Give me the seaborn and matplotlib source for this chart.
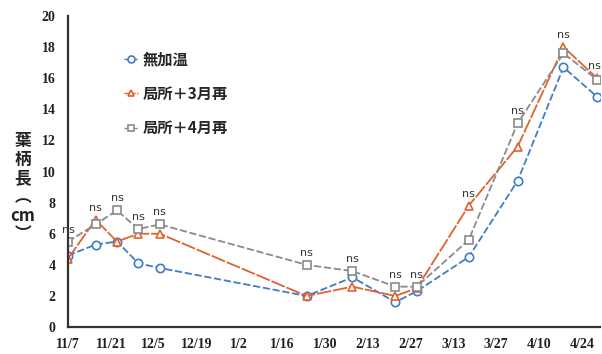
import matplotlib
matplotlib.use("Agg")
import matplotlib.pyplot as plt
import seaborn as sns
import pandas as pd

# Sampling days counted from 11/7
days = [0, 9, 16, 23, 30, 78, 93, 107, 114, 131, 147, 162, 173]

# Petiole length (cm) per treatment
mukaon = [4.6, 5.3, 5.5, 4.1, 3.8, 2.0, 3.2, 1.6, 2.3, 4.5, 9.4, 16.7, 14.8]
kyokusho_3 = [4.4, 6.9, 5.5, 6.0, 6.0, 2.0, 2.6, 2.0, 2.5, 7.8, 11.6, 18.0, 16.0]
kyokusho_4 = [5.5, 6.6, 7.5, 6.3, 6.6, 4.0, 3.6, 2.6, 2.6, 5.6, 13.1, 17.6, 15.9]

series_names = ["無加温", "局所＋3月再", "局所＋4月再"]
sig_labels = ["ns"] * len(days)

tick_days = [0, 14, 28, 42, 56, 70, 84, 98, 112, 126, 140, 154, 168]
tick_labels = ["11/7", "11/21", "12/5", "12/19", "1/2", "1/16", "1/30",
               "2/13", "2/27", "3/13", "3/27", "4/10", "4/24"]

sns.set_theme(style="white")
plt.rcParams["font.family"] = ["Noto Sans CJK JP", "DejaVu Sans"]

df = pd.concat([
    pd.DataFrame({"day": days, "value": mukaon, "treatment": series_names[0]}),
    pd.DataFrame({"day": days, "value": kyokusho_3, "treatment": series_names[1]}),
    pd.DataFrame({"day": days, "value": kyokusho_4, "treatment": series_names[2]}),
])

fig = plt.figure(figsize=(6.02, 3.54), dpi=100)
ax = fig.add_axes([0.113, 0.076, 0.884, 0.879])

styles = {
    series_names[0]: dict(color="#3f7cc6", marker="o", dashes=(4, 1.5)),
    series_names[1]: dict(color="#e0622c", marker="^", dashes=(8, 1)),
    series_names[2]: dict(color="#8a8a8a", marker="s", dashes=(4, 1.5)),
}

for name in series_names:
    st = styles[name]
    sub = df[df["treatment"] == name]
    sns.lineplot(data=sub, x="day", y="value", ax=ax, color=st["color"],
                 marker=st["marker"], markersize=6, markerfacecolor="white",
                 markeredgecolor=st["color"], markeredgewidth=1.2,
                 linewidth=1.3, dashes=False, label=name)
    ax.lines[-1].set_dashes(st["dashes"])

# significance marks above the highest point of each date
last = len(days) - 1
for i, (d, a, b, c, s) in enumerate(zip(days, mukaon, kyokusho_3, kyokusho_4, sig_labels)):
    ha, dx = ("right", 3) if i == last else ("center", 0)
    ax.annotate(s, (d, max(a, b, c)), xytext=(dx, 5), textcoords="offset points",
                ha=ha, va="bottom", fontsize=8, color="#333333",
                family=["DejaVu Sans"], annotation_clip=False)

ax.set_xlim(0, 174)
ax.set_ylim(0, 20)
ax.set_yticks(range(0, 21, 2))
ax.set_xticks(tick_days)
ax.set_xticklabels(tick_labels)
ax.set_xlabel("")
ax.set_ylabel("")

for lab in ax.get_xticklabels() + ax.get_yticklabels():
    lab.set_family(["Liberation Serif"])
    lab.set_fontweight("bold")
    lab.set_fontsize(10)
    lab.set_color("#222222")

for side in ["top", "right"]:
    ax.spines[side].set_visible(False)
for side in ["left", "bottom"]:
    ax.spines[side].set_color("#333333")
    ax.spines[side].set_linewidth(1.6)

ax.tick_params(axis="y", direction="out", length=3, width=1.2, color="#333333", pad=6)
ax.tick_params(axis="x", direction="inout", length=5, width=1.2, color="#333333", pad=5)

leg = ax.legend(loc="upper left", bbox_to_anchor=(0.08, 0.93), frameon=False,
                handlelength=0.9, handletextpad=0.3, labelspacing=1.2,
                prop={"family": ["Noto Sans CJK JP"], "weight": "bold", "size": 11})
for line in leg.get_lines():
    line.set_linewidth(1.0)
    line.set_markersize(5)

fig.text(0.038, 0.47, "葉\n柄\n長\n︵\ncm\n︶", ha="center", va="center",
         fontsize=12, fontweight="bold", linespacing=1.05, color="#222222",
         family=["Noto Sans CJK JP", "DejaVu Sans"])

fig.savefig("out.png", dpi=100)
